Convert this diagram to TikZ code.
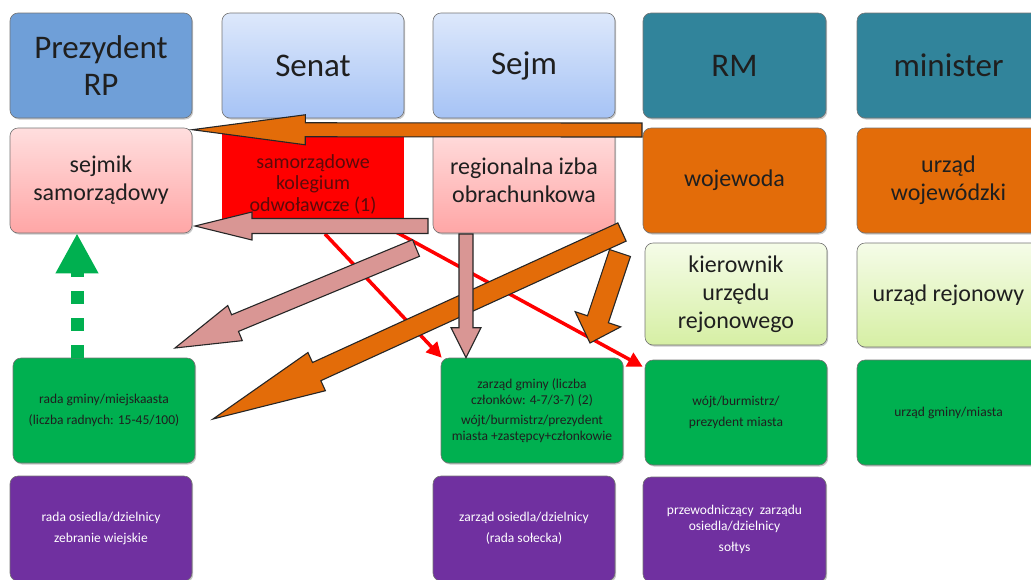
\documentclass[tikz,border=0pt]{standalone}
\usepackage{fontspec}
\setmainfont{Carlito}
\usepackage{tikz}
\usetikzlibrary{calc,positioning,arrows.meta,shadows}
\definecolor{prezblue}{HTML}{6F9FD8}
\definecolor{sejmtop}{HTML}{DDE8FB}
\definecolor{sejmbot}{HTML}{A6C3F5}
\definecolor{rmteal}{HTML}{31849B}
\definecolor{pinktop}{HTML}{FFDEDE}
\definecolor{pinkbot}{HTML}{FFA6A6}
\definecolor{woorange}{HTML}{E36C09}
\definecolor{limetop}{HTML}{F5FCE8}
\definecolor{limebot}{HTML}{D6EFA4}
\definecolor{gmgreen}{HTML}{00B050}
\definecolor{ospurple}{HTML}{7030A0}
\definecolor{arrpink}{HTML}{D99694}
\definecolor{kolred}{HTML}{5C0A0A}

\begin{document}
\begin{tikzpicture}[x=1pt,y=-1pt]
\tikzstyle{box}=[rounded corners=8pt, draw=black!55, line width=0.6pt, minimum width=182pt, minimum height=105pt, align=center, inner sep=2pt, text=black!88, drop shadow={shadow xshift=1.2pt,shadow yshift=-1.5pt,opacity=.3,fill=black!70}]
\tikzstyle{big}=[font=\fontsize{33}{37}\selectfont]
\tikzstyle{mid}=[font=\fontsize{24}{28}\selectfont]
\tikzstyle{small}=[font=\fontsize{13.5}{16}\selectfont]
\tikzstyle{blockarr}=[draw=black!85, line width=1.1pt, line join=miter]
\tikzstyle{redarr}=[draw=red, line width=3.5pt, -{Triangle[length=15pt,width=15pt]}]
\tikzstyle{greenarr}=[draw=gmgreen, line width=13pt, dash pattern=on 13pt off 14pt, -{Triangle[length=40pt,width=40pt]}]
\useasboundingbox (0,0) rectangle (1031,579);
\clip (0,0) rectangle (1031,579);
% top row
\node[box, big, fill=prezblue] (prez) at (101,65.5) {Prezydent\\RP};
\node[box, big, top color=sejmtop, bottom color=sejmbot] (senat) at (313,65.5) {Senat};
\node[box, big, top color=sejmtop, bottom color=sejmbot] (sejm) at (524,65.5) {Sejm};
\node[box, big, fill=rmteal, minimum width=183pt] (rm) at (734.5,65.5) {RM};
\node[box, big, fill=rmteal, minimum width=183pt] (minister) at (948.5,65.5) {minister};
% second row
\node[fill=red, minimum width=182pt, minimum height=103pt, text height=66pt, align=center, text=kolred, font=\fontsize{20}{21.5}\selectfont] (kolegium) at (313,179.5) {samorządowe\\kolegium\\odwoławcze (1)};
\node[box, mid, top color=pinktop, bottom color=pinkbot] (sejmik) at (101,180.5) {sejmik\\samorządowy};
\node[box, mid, top color=pinktop, bottom color=pinkbot] (rio) at (524,180.5) {regionalna izba\\obrachunkowa};
\node[box, mid, fill=woorange, minimum width=183pt] (wojewoda) at (734.5,180.5) {wojewoda};
\node[box, mid, fill=woorange, minimum width=183pt] (uwoj) at (948.5,180.5) {urząd\\wojewódzki};
% third row
\node[box, mid, top color=limetop, bottom color=limebot, minimum height=102pt] (kier) at (736,294) {kierownik\\urzędu\\rejonowego};
\node[box, mid, top color=limetop, bottom color=limebot, minimum width=183pt, minimum height=104pt] (urej) at (948.5,295) {urząd rejonowy};
% gmina
\node[box, small, fill=gmgreen] (radag) at (104,410.5) {rada gminy/miejskaasta\\[5pt](liczba radnych: 15-45/100)};
\node[box, small, fill=gmgreen] (zarzad) at (532,410.5) {zarząd gminy (liczba\\członków: 4-7/3-7) (2)\\[4pt]wójt/burmistrz/prezydent\\miasta +zastępcy+członkowie};
\node[box, small, fill=gmgreen] (wojt) at (736,412.5) {wójt/burmistrz/\\[5pt]prezydent miasta};
\node[box, small, fill=gmgreen, minimum width=183pt] (ugm) at (948.5,412.5) {urząd gminy/miasta};
% osiedla
\node[box, small, fill=ospurple, text=white] (radao) at (101,528.5) {rada osiedla/dzielnicy\\[5pt]zebranie wiejskie};
\node[box, small, fill=ospurple, text=white] (zarzado) at (524,528.5) {zarząd osiedla/dzielnicy\\[5pt](rada sołecka)};
\node[box, small, fill=ospurple, text=white, minimum width=183pt] (przew) at (734.5,529.5) {przewodniczący~ zarządu\\osiedla/dzielnicy\\[5pt]sołtys};
% arrow ends
\coordinate (r1s) at (325,234);
\coordinate (r1t) at ($(zarzad.north west)+(1,0)$);
\coordinate (r2s) at (396,232);
\coordinate (r2t) at ($(wojt.north west)+(-2,7)$);
\coordinate (o1s) at (642,130);
\coordinate (o1t) at ($(sejmik.north east)+(0,2)$);
\coordinate (p1s) at (428,226);
\coordinate (p1t) at (195,226);
\coordinate (p2s) at (416,248);
\coordinate (p2t) at (175,348);
\coordinate (p3s) at (466,234);
\coordinate (p3t) at (zarzad.north -| p3s);
\coordinate (o2s) at (622,232);
\coordinate (o2t) at (213,419);
\coordinate (o3s) at (620,253);
\coordinate (o3t) at (590,343);
\coordinate (gx) at (77,0);
% red arrows under the wide ones
\draw[redarr] (r1s) -- (r1t);
\draw[redarr] (r2s) -- (r2t);
\foreach \ta/\tb/\aw/\bw/\bl/\col in {o1s/o1t/7pt/15pt/113pt/woorange, p1s/p1t/7.5pt/14pt/57pt/arrpink, p2s/p2t/9pt/19pt/65pt/arrpink, o3s/o3t/11pt/24pt/25pt/woorange, o2s/o2t/10pt/21pt/114pt/woorange, p3s/p3t/7pt/15pt/30pt/arrpink}
{
\coordinate (hb) at ($(\tb)!\bl!(\ta)$);
\draw[blockarr, fill=\col] ($(\ta)!\aw!90:(\tb)$) -- ($(hb)!\aw!90:(\tb)$) -- ($(hb)!\bw!90:(\tb)$) -- (\tb) -- ($(hb)!\bw!-90:(\tb)$) -- ($(hb)!\aw!-90:(\tb)$) -- ($(\ta)!\aw!-90:(\tb)$) -- cycle;
}
\draw[greenarr] (radag.north -| gx) -- (sejmik.south -| gx);
\end{tikzpicture}
\end{document}
